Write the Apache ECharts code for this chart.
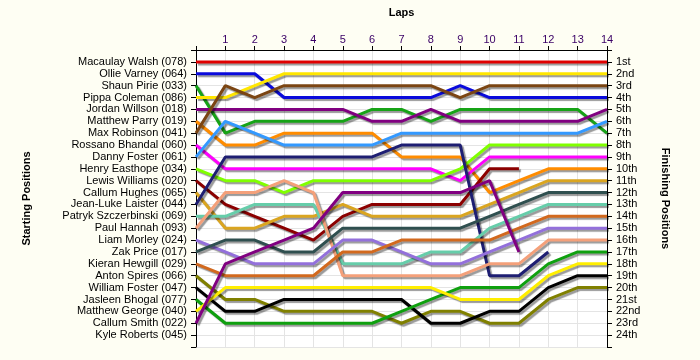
<!DOCTYPE html>
<html>
<head>
<meta charset="utf-8">
<script src="https://cdn.jsdelivr.net/npm/echarts@6/dist/echarts.min.js"></script>
<style>html,body{margin:0;padding:0;background:#FEFEF3;}#c{width:700px;height:360px;}</style>
</head>
<body>
<div id="c"></div>
<script>
const startNames = ["Macaulay Walsh (078)", "Ollie Varney (064)", "Shaun Pirie (033)", "Pippa Coleman (086)", "Jordan Willson (018)", "Matthew Parry (019)", "Max Robinson (041)", "Rossano Bhandal (060)", "Danny Foster (061)", "Henry Easthope (034)", "Lewis Williams (020)", "Callum Hughes (065)", "Jean-Luke Laister (044)", "Patryk Szczerbinski (069)", "Paul Hannah (093)", "Liam Morley (024)", "Zak Price (017)", "Kieran Hewgill (029)", "Anton Spires (066)", "William Foster (047)", "Jasleen Bhogal (077)", "Matthew George (040)", "Callum Smith (022)", "Kyle Roberts (045)"];
const finishLabels = ["1st","2nd","3rd","4th","5th","6th","7th","8th","9th","10th","11th","12th","13th","14th","15th","16th","17th","18th","19th","20th","21st","22nd","23rd","24th"];
const lapLabels = ["1","2","3","4","5","6","7","8","9","10","11","12","13","14"];

// positions from lap 0 (start) to last lap completed
const posWalsh     = [1,1,1,1,1,1,1,1,1,1,1,1,1,1,1];
const posVarney    = [2,2,2,4,4,4,4,4,4,3,4,4,4,4,4];
const posPirie     = [3,7,6,6,6,6,5,5,6,5,5,5,5,5,7];
const posColeman   = [4,4,3,2,2,2,2,2,2,2,2,2,2,2,2];
const posWillson   = [5,5,5,5,5,5,6,6,5,6,6,6,6,6,5];
const posParry     = [6,8,8,7,7,7,7,9,9,9,12,11,10,10,10];
const posRobinson  = [7,3,4,3,3,3,3,3,3,4,3,3,3,3,3];
const posBhandal   = [8,10,10,10,10,10,10,10,10,11,9,9,9,9,9];
const posDFoster   = [9,6,7,8,8,8,8,7,7,7,7,7,7,7,6];
const posEasthope  = [10,11,11,12,11,11,11,11,11,10,8,8,8,8,8];
const posWilliams  = [11,13,14,15,16,14,13,13,13,13,10,10];
const posHughes    = [12,15,15,14,14,13,14,14,14,14,13,12,11,11,11];
const posLaister   = [13,9,9,9,9,9,9,8,8,8,19,19,17];
const posSzczer    = [14,14,13,13,13,18,18,18,17,17,15,14,13,13,13];
const posHannah    = [15,12,12,11,12,19,19,19,19,19,18,18,16,16,16];
const posMorley    = [16,17,18,18,18,16,16,17,18,18,17,16,15,15,15];
const posPrice     = [17,16,16,17,17,15,15,15,15,15,14,13,12,12,12];
const posHewgill   = [18,19,19,19,19,17,17,16,16,16,16,15,14,14,14];
const posSpires    = [19,21,21,22,22,22,22,23,22,22,23,23,21,20,20];
const posWFoster   = [20,22,22,21,21,21,21,21,23,23,22,22,20,19,19];
const posBhogal    = [21,23,23,23,23,23,23,22,21,20,20,20,18,17,17];
const posGeorge    = [22,20,20,20,20,20,20,20,20,21,21,21,19,18,18];
const posSmith     = [23,18,17,16,15,12,12,12,12,12,11,17];

const drivers = [
  [posWalsh, '#E00000'], [posVarney, '#0A0ADC'], [posPirie, '#17A317'], [posColeman, '#FFE600'],
  [posWillson, '#800080'], [posParry, '#FF8C00'], [posRobinson, '#7B4513'], [posBhandal, '#FF00FF'],
  [posDFoster, '#3399FF'], [posEasthope, '#80FF00'], [posWilliams, '#8B0000'], [posHughes, '#DAA520'],
  [posLaister, '#1E1E72'], [posSzczer, '#66CDAA'], [posHannah, '#F4A07A'], [posMorley, '#9370DB'],
  [posPrice, '#2F4F4F'], [posHewgill, '#D2691E'], [posSpires, '#808000'], [posWFoster, '#000000'],
  [posBhogal, '#0FA00F'], [posGeorge, '#FFEE00'], [posSmith, '#800080']
];

const chart = echarts.init(document.getElementById('c'), null, {renderer: 'canvas'});
const font = 'Liberation Sans, Arial, sans-serif';
const series = drivers.map((d, k) => ({
  type: 'line',
  yAxisIndex: 0,
  symbol: 'none',
  silent: true,
  data: d[0].map((p, i) => [i, p]),
  lineStyle: { color: d[1], width: 3, shadowColor: 'rgba(0,0,0,0.4)', shadowBlur: 1, shadowOffsetX: 2, shadowOffsetY: 2 },
  z: 2
}));

const yBase = {
  type: 'value', inverse: true, min: 0, max: 25, interval: 1,
  axisLine: { show: true, lineStyle: { color: '#000', width: 1 } },
  axisTick: { show: true, length: 5, lineStyle: { color: '#000' } },
  nameLocation: 'middle',
  nameTextStyle: { fontFamily: font, fontSize: 11, fontWeight: 'bold', color: '#000' }
};

chart.setOption({
  backgroundColor: '#FEFEF3',
  animation: false,
  grid: { left: 196, right: 93, top: 50, bottom: 13, show: true, backgroundColor: '#FFFFFF', borderWidth: 0 },
  xAxis: {
    type: 'value', position: 'top', min: 0, max: 14, interval: 1,
    name: 'Laps', nameLocation: 'middle', nameGap: 32,
    nameTextStyle: { fontFamily: font, fontSize: 11, fontWeight: 'bold', color: '#000' },
    axisLine: { show: true, lineStyle: { color: '#000', width: 1 } },
    axisTick: { show: true, length: 4, lineStyle: { color: '#000' } },
    axisLabel: { margin: 5, fontFamily: font, fontSize: 11, color: '#3A0066',
      formatter: v => v >= 1 ? lapLabels[v - 1] : '' },
    splitLine: { show: true, lineStyle: { color: '#E4E4E4', width: 1 } }
  },
  yAxis: [
    Object.assign({}, yBase, {
      position: 'left', name: 'Starting Positions', nameRotate: 90, nameGap: 164,
      axisLabel: { margin: 9, fontFamily: font, fontSize: 11, color: '#000',
        formatter: v => (v >= 1 && v <= 24) ? startNames[v - 1] : '' },
      splitLine: { show: true, lineStyle: { color: '#E4E4E4', width: 1 } }
    }),
    Object.assign({}, yBase, {
      position: 'right', name: 'Finishing Positions', nameRotate: -90, nameGap: 53,
      axisLabel: { margin: 9, fontFamily: font, fontSize: 11, color: '#000',
        formatter: v => (v >= 1 && v <= 24) ? finishLabels[v - 1] : '' },
      splitLine: { show: false }
    })
  ],
  series: series
});
</script>
</body>
</html>
